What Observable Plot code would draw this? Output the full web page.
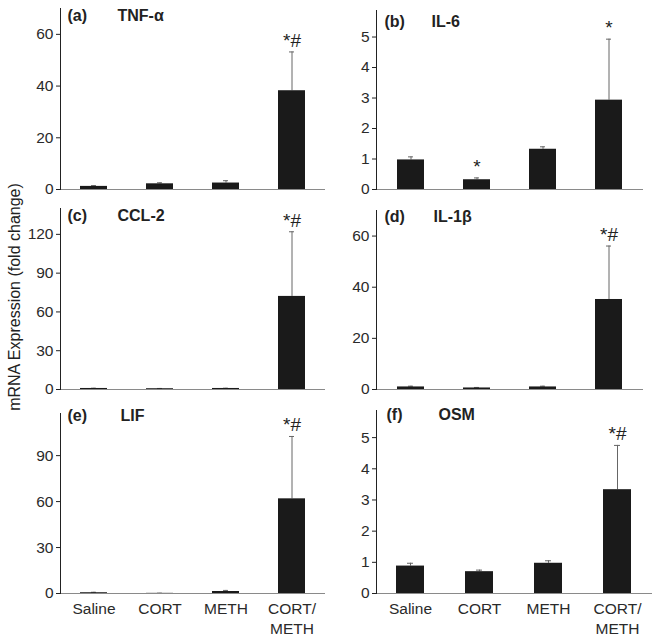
<!DOCTYPE html>
<html>
<head>
<meta charset="utf-8">
<script src="https://cdn.jsdelivr.net/npm/d3@7"></script>
<script src="https://cdn.jsdelivr.net/npm/@observablehq/plot@0.6"></script>
<style>
  html, body { margin: 0; padding: 0; background: #fff; }
  #wrap { position: relative; width: 662px; height: 641px; font-family: "Liberation Sans", Arial, sans-serif; }
  .panel { position: absolute; }
  #ytitle { position: absolute; left: 15px; top: 297px; transform: translate(-50%, -50%) rotate(-90deg);
    white-space: nowrap; font-size: 16px; color: #222; }
</style>
</head>
<body>
<div id="wrap"><div id="ytitle">mRNA Expression (fold change)</div></div>
<script>
const groups = ["Saline", "CORT", "METH", "CORT/METH"];
const groupLabels = ["Saline", "CORT", "METH", "CORT/\nMETH"];
const panelTags = ["(a)", "(b)", "(c)", "(d)", "(e)", "(f)"];
const genes = ["TNF-α", "IL-6", "CCL-2", "IL-1β", "LIF", "OSM"];

const tnfMean = [1.2, 2.2, 2.5, 38.2];
const tnfSem  = [0.3, 0.4, 0.9, 15.0];
const il6Mean = [0.97, 0.32, 1.32, 2.93];
const il6Sem  = [0.10, 0.06, 0.08, 2.00];
const cclMean = [0.8, 0.6, 0.8, 72];
const cclSem  = [0.2, 0.2, 0.2, 50];
const il1Mean = [1.0, 0.6, 1.0, 35.2];
const il1Sem  = [0.3, 0.2, 0.3, 20.9];
const lifMean = [0.5, 0.1, 1.3, 61.8];
const lifSem  = [0.3, 0.1, 0.7, 40.7];
const osmMean = [0.88, 0.70, 0.97, 3.33];
const osmSem  = [0.09, 0.05, 0.08, 1.42];

const tnfSig = ["", "", "", "*#"];
const il6Sig = ["", "*", "", "*"];
const cclSig = ["", "", "", "*#"];
const il1Sig = ["", "", "", "*#"];
const lifSig = ["", "", "", "*#"];
const osmSig = ["", "", "", "*#"];

const tnfTicks = [0, 20, 40, 60];
const il6Ticks = [0, 1, 2, 3, 4, 5];
const cclTicks = [0, 30, 60, 90, 120];
const il1Ticks = [0, 20, 40, 60];
const lifTicks = [0, 30, 60, 90];
const osmTicks = [0, 1, 2, 3, 4, 5];

const yMax = [70, 5.87, 140, 70, 117.5, 5.87];

const means = [tnfMean, il6Mean, cclMean, il1Mean, lifMean, osmMean];
const sems = [tnfSem, il6Sem, cclSem, il1Sem, lifSem, osmSem];
const sigs = [tnfSig, il6Sig, cclSig, il1Sig, lifSig, osmSig];
const ticks = [tnfTicks, il6Ticks, cclTicks, il1Ticks, lifTicks, osmTicks];

// layout (positions only)
const layout = [
  {left: 0,   top: 0,   w: 331, h: 200, mL: 60, mR: 6,  mT: 8,  mB: 11, tagDx: 7, geneDx: 57, labY: 15},
  {left: 331, top: 0,   w: 331, h: 200, mL: 45, mR: 19, mT: 10, mB: 11, tagDx: 8, geneDx: 55, labY: 21.5},
  {left: 0,   top: 200, w: 331, h: 200, mL: 60, mR: 6,  mT: 8,  mB: 11, tagDx: 7, geneDx: 57, labY: 15},
  {left: 331, top: 200, w: 331, h: 200, mL: 45, mR: 19, mT: 10, mB: 11, tagDx: 8, geneDx: 57, labY: 16.5},
  {left: 0,   top: 400, w: 331, h: 241, mL: 60, mR: 6,  mT: 13, mB: 48, tagDx: 7, geneDx: 60, labY: 15},
  {left: 331, top: 400, w: 331, h: 241, mL: 45, mR: 10, mT: 10, mB: 48, tagDx: 10, geneDx: 62, labY: 14}
];

const wrap = document.getElementById("wrap");

for (let i = 0; i < 6; i++) {
  const L = layout[i];
  const rows = groups.map((g, j) => ({
    group: g, mean: means[i][j], top: means[i][j] + sems[i][j], sig: sigs[i][j]
  }));
  const bottomRow = i >= 4;
  const labelMap = new Map(groups.map((g, j) => [g, groupLabels[j]]));
  const chart = Plot.plot({
    width: L.w, height: L.h,
    marginLeft: L.mL, marginRight: L.mR, marginTop: L.mT, marginBottom: L.mB,
    style: {fontFamily: '"Liberation Sans", Arial, sans-serif', fontSize: "15px", color: "#222", background: "transparent", overflow: "visible"},
    x: {domain: groups, paddingInner: 0.59, paddingOuter: 0.295, axis: null},
    y: {domain: [0, yMax[i]], axis: null},
    marks: [
      Plot.axisY({ticks: ticks[i], tickSize: 4, tickPadding: 3, stroke: "#222", label: null, tickFormat: d => String(d)}),
      bottomRow ? Plot.axisX({tickSize: 0, tickPadding: 6, lineHeight: 1.3, label: null,
        tickFormat: d => labelMap.get(d)}) : null,
      Plot.ruleX(rows, {x: "group", y1: "mean", y2: "top", stroke: "#666", strokeWidth: 1}),
      Plot.tickY(rows, {x: "group", y: "top", stroke: "#666", strokeWidth: 1, insetLeft: 11, insetRight: 11}),
      Plot.barY(rows, {x: "group", y: "mean", fill: "#1a1a1a"}),
      Plot.ruleY([0], {stroke: "#8a8a8a", strokeWidth: 1.2}),
      Plot.frame({anchor: "left", stroke: "#222", strokeWidth: 1}),
      Plot.text(rows, {x: "group", y: "top", text: "sig", dy: -5, lineAnchor: "bottom", fontSize: 19, fill: "#222"}),
      Plot.text([panelTags[i]], {frameAnchor: "top-left", dx: L.tagDx, dy: L.labY - L.mT, lineAnchor: "middle", textAnchor: "start", fontSize: 16, fontWeight: "bold", fill: "#222"}),
      Plot.text([genes[i]], {frameAnchor: "top-left", dx: L.geneDx, dy: L.labY - L.mT, lineAnchor: "middle", textAnchor: "start", fontSize: 16, fontWeight: "bold", fill: "#222"})
    ]
  });
  // enlarge axis tick labels
  chart.querySelectorAll('g[aria-label*="axis"]').forEach(g => {
    g.setAttribute("font-size", "15.5");
    g.style.fontSize = "15.5px";
    g.querySelectorAll("text").forEach(t => { t.style.fontSize = "15.5px"; t.style.fill = "#2a2a2a"; });
  });
  chart.classList.add("panel");
  chart.style.left = L.left + "px";
  chart.style.top = L.top + "px";
  wrap.appendChild(chart);
}
</script>
</body>
</html>
